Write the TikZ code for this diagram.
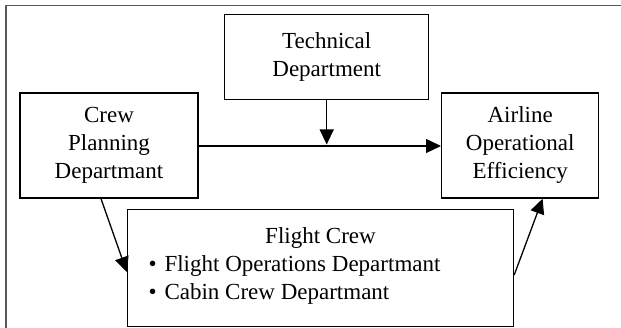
\documentclass[tikz,border=0pt]{standalone}
\usepackage{fontspec}
\setmainfont{Liberation Serif}
\usetikzlibrary{arrows.meta}

\begin{document}
\begin{tikzpicture}[x=1pt,y=-1pt,->,>={Triangle[length=15pt,width=14pt]},
      line width=1.3pt,
      box/.style={draw,rectangle,inner sep=0pt,align=center,line width=1.4pt,
        font=\fontsize{23}{28}\selectfont}]
      \useasboundingbox (0,0) rectangle (621,328);
      \draw[-,gray!70!black,line width=1.8pt] (5.7,330) -- (5.7,5.5) -- (623,5.5);

      \node[box,minimum width=204pt,minimum height=85pt] (tech) at (326.7,57) {Technical\\Department};
      \node[box,minimum width=178pt,minimum height=105pt] (crew) at (109,145.5) {Crew\\Planning\\Departmant};
      \node[box,minimum width=157pt,minimum height=105pt] (aoe) at (520.2,145.5) {Airline\\Operational\\Efficiency};
      \node[box,minimum width=386pt,minimum height=117pt] (fc) at (320.5,268) {%
        \begin{minipage}[c][104pt][t]{344pt}
          \vspace*{12pt}
          \centering Flight Crew\\
          \raggedright\textbullet\hspace{8pt}Flight Operations Departmant\\
          \textbullet\hspace{8pt}Cabin Crew Departmant
        \end{minipage}};
      \coordinate (mid) at (tech.south |- 0,144.5);

      \path
      (crew.east |- 0,146) edge (aoe.west |- 0,146)
      (tech.south) edge (mid)
      (crew.south -| 101,0) edge (fc.west |- 0,272)
      (fc.east |- 0,275) edge (aoe.south -| 542.6,0)
      ;
      \end{tikzpicture}
\end{document}
